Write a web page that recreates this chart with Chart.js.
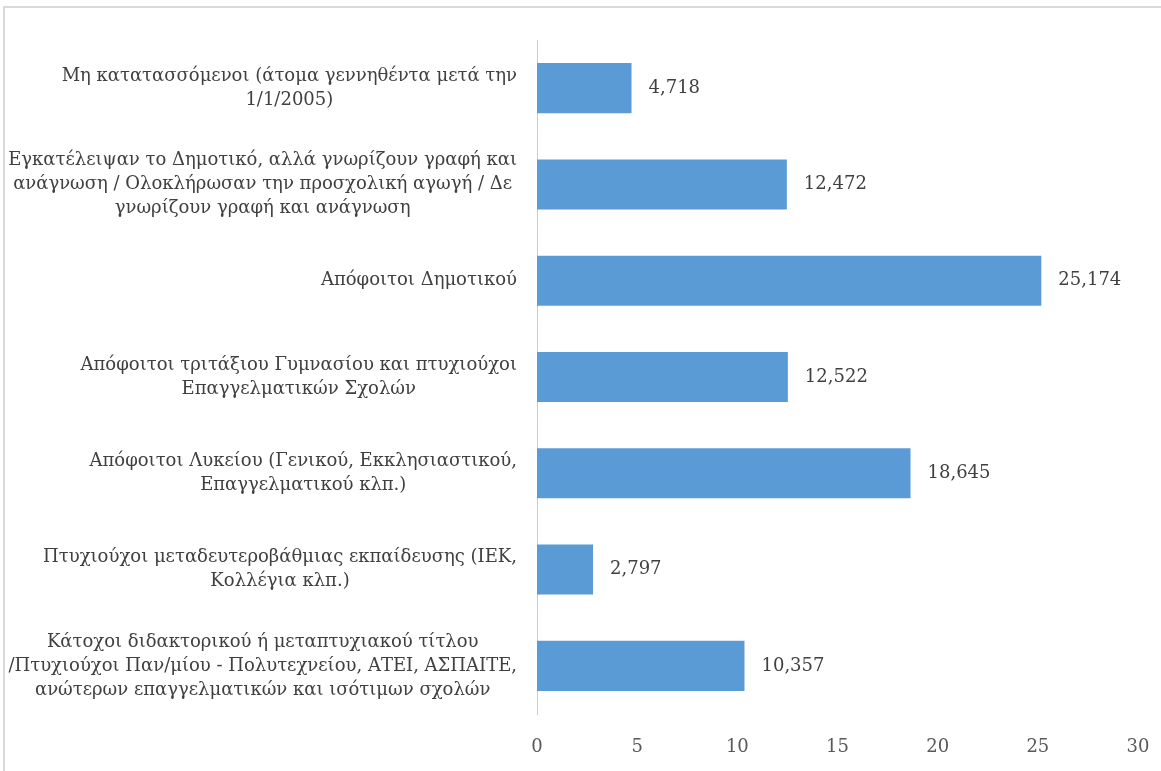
<!DOCTYPE html>
<html>
<head>
<meta charset="utf-8">
<script src="https://cdn.jsdelivr.net/npm/chart.js@4/dist/chart.umd.min.js"></script>
<style>
  html, body { margin: 0; padding: 0; background: #fff; overflow: hidden; }
  .frame { position: absolute; left: 3px; top: 6px; width: 1200px; height: 800px; border: 2px solid #d9d9d9; }
  .wrap { position: absolute; left: 0; top: 0; width: 1161px; height: 771px; }
</style>
</head>
<body>
<div class="frame"></div>
<div class="wrap"><canvas id="chart"></canvas></div>
<script>
const categories = [
  ['Μη κατατασσόμενοι (άτομα γεννηθέντα μετά την', '1/1/2005)'],
  ['Εγκατέλειψαν το Δημοτικό, αλλά γνωρίζουν γραφή και', 'ανάγνωση / Ολοκλήρωσαν την προσχολική αγωγή / Δε', 'γνωρίζουν γραφή και ανάγνωση'],
  ['Απόφοιτοι Δημοτικού'],
  ['Απόφοιτοι τριτάξιου Γυμνασίου και πτυχιούχοι', 'Επαγγελματικών Σχολών'],
  ['Απόφοιτοι Λυκείου (Γενικού, Εκκλησιαστικού,', 'Επαγγελματικού κλπ.)'],
  ['Πτυχιούχοι μεταδευτεροβάθμιας εκπαίδευσης (ΙΕΚ,', 'Κολλέγια κλπ.)'],
  ['Κάτοχοι διδακτορικού ή μεταπτυχιακού τίτλου', '/Πτυχιούχοι Παν/μίου - Πολυτεχνείου, ΑΤΕΙ, ΑΣΠΑΙΤΕ,', 'ανώτερων επαγγελματικών και ισότιμων σχολών']
];
const values = [4.718, 12.472, 25.174, 12.522, 18.645, 2.797, 10.357];
const valueLabels = ['4,718', '12,472', '25,174', '12,522', '18,645', '2,797', '10,357'];
const xTicks = [0, 5, 10, 15, 20, 25, 30];

const FONT = '"DejaVu Serif", "Liberation Serif", serif';

// category labels: right-aligned block, lines centred inside it
const categoryLabels = {
  id: 'categoryLabels',
  afterDraw(chart) {
    const ctx = chart.ctx;
    const yScale = chart.scales.y;
    const right = chart.chartArea.left - 20;
    ctx.save();
    ctx.font = '18px ' + FONT;
    ctx.fillStyle = '#404040';
    ctx.textAlign = 'center';
    ctx.textBaseline = 'middle';
    const lh = 24;
    categories.forEach((lines, i) => {
      const yc = yScale.getPixelForTick(i);
      const w = Math.max(...lines.map(l => ctx.measureText(l).width));
      const cx = right - w / 2;
      const y0 = yc - (lines.length - 1) * lh / 2;
      lines.forEach((l, j) => ctx.fillText(l, cx, y0 + j * lh));
    });
    ctx.restore();
  }
};

const barValues = {
  id: 'barValues',
  afterDatasetsDraw(chart) {
    const ctx = chart.ctx;
    const meta = chart.getDatasetMeta(0);
    ctx.save();
    ctx.font = '18px ' + FONT;
    ctx.fillStyle = '#404040';
    ctx.textAlign = 'left';
    ctx.textBaseline = 'middle';
    meta.data.forEach((bar, i) => {
      ctx.fillText(valueLabels[i], bar.x + 17, bar.y);
    });
    ctx.restore();
  }
};

new Chart(document.getElementById('chart'), {
  type: 'bar',
  data: {
    labels: categories,
    datasets: [{
      data: values,
      backgroundColor: '#5b9bd5',
      barPercentage: 0.52,
      categoryPercentage: 1.0
    }]
  },
  options: {
    indexAxis: 'y',
    responsive: true,
    maintainAspectRatio: false,
    animation: false,
    layout: { padding: { left: 0, top: 40, right: 23, bottom: 0 } },
    plugins: {
      legend: { display: false },
      tooltip: { enabled: false }
    },
    scales: {
      x: {
        min: 0,
        max: 30,
        afterBuildTicks: (scale) => { scale.ticks = xTicks.map(v => ({ value: v })); },
        afterFit: (scale) => {
          scale.height = 57;
          scale.paddingRight = 0;
          scale.paddingLeft = 0;
        },
        grid: { display: false },
        border: { display: false },
        ticks: {
          color: '#595959',
          padding: 15,
          font: { family: FONT, size: 18 }
        }
      },
      y: {
        grid: { display: false },
        border: { display: true, color: '#cccccc', width: 1 },
        ticks: { display: false },
        afterFit: (scale) => { scale.width = 537; }
      }
    }
  },
  plugins: [categoryLabels, barValues]
});
</script>
</body>
</html>
